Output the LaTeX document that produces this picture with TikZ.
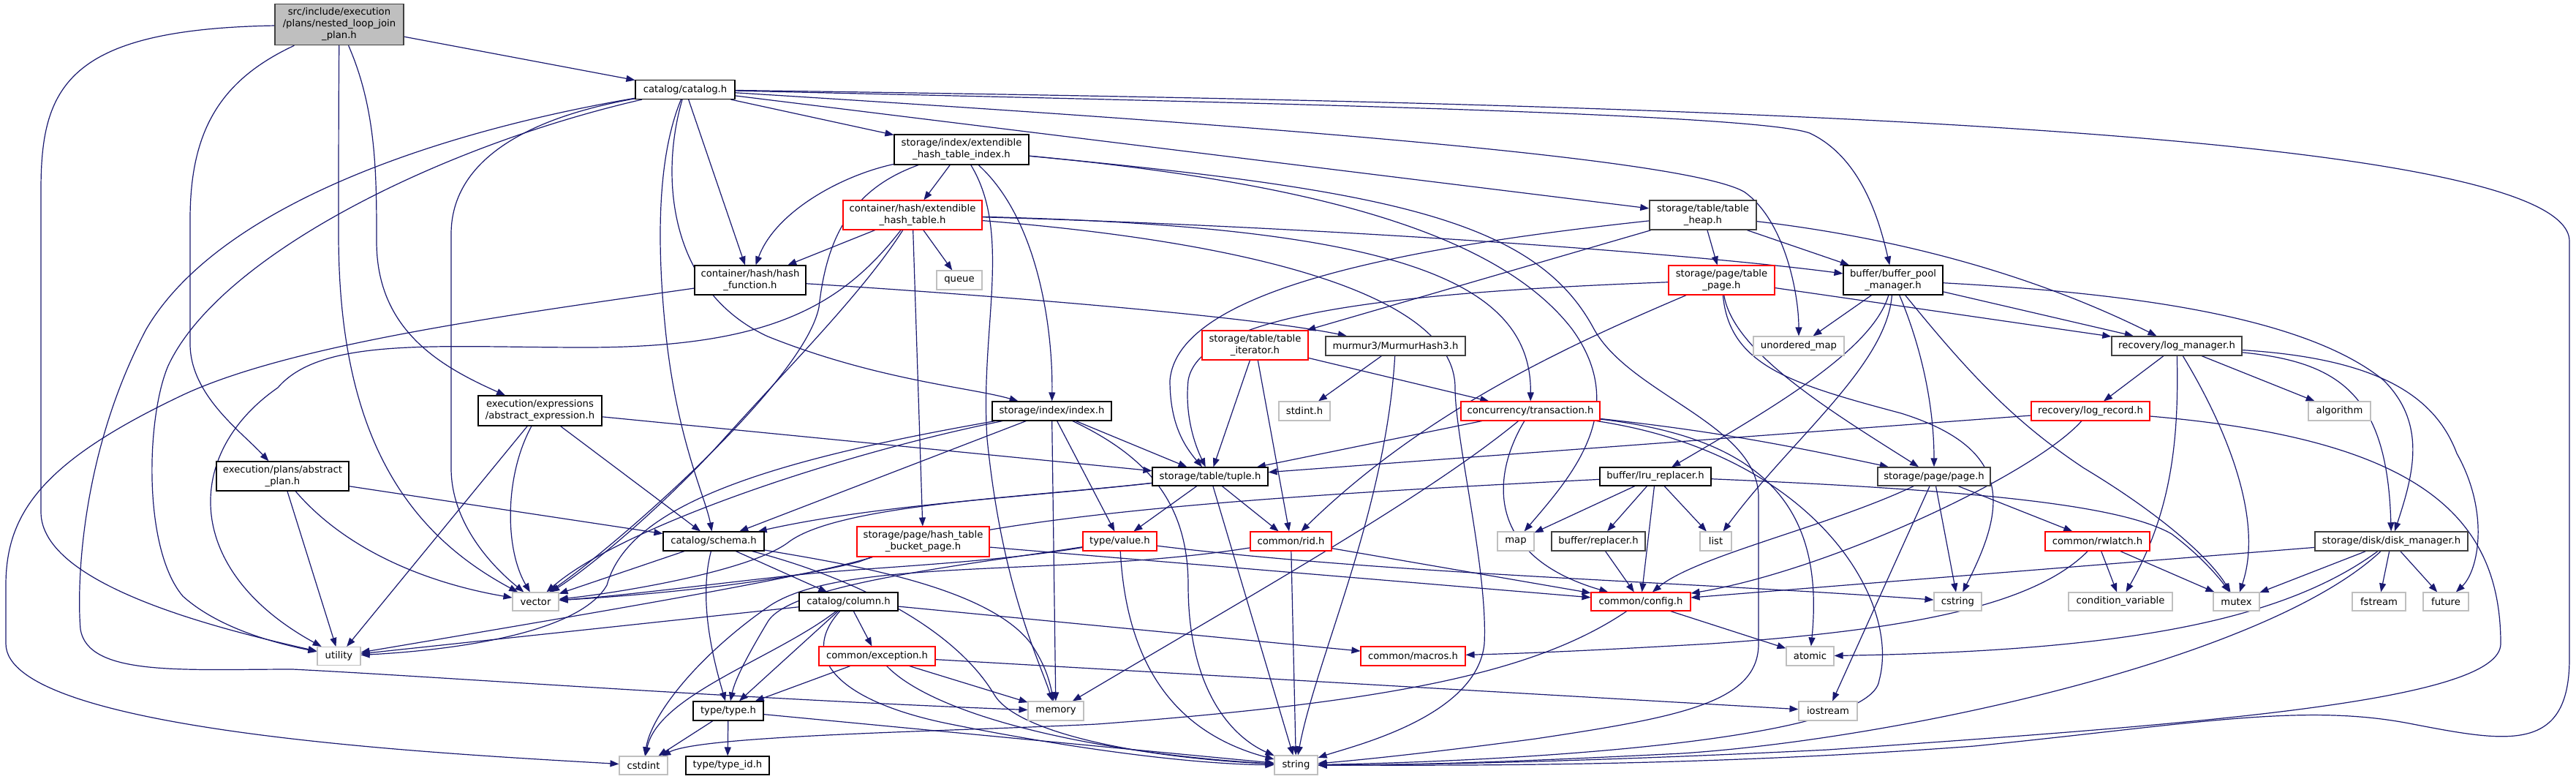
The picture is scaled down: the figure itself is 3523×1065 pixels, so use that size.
\documentclass[tikz,border=0pt]{standalone}
\usepackage{fontspec}
\setmainfont{DejaVu Sans}
\usetikzlibrary{arrows.meta}
\definecolor{edgec}{HTML}{191970}
\definecolor{gA}{HTML}{BFBFBF}
\definecolor{gB}{HTML}{404040}
\pgfdeclarelayer{bg}
\pgfsetlayers{bg,main}
\tikzset{
 nd/.style={draw=black, fill=white, line width=0.55pt, inner sep=0pt, align=center, font=\fontsize{6.6}{8}\selectfont},
 ng/.style={nd, draw=gA},
 nr/.style={nd, draw=red},
 nk/.style={nd, draw=gB, line width=0.75pt},
 ed/.style={draw=edgec, line width=0.6pt, -{Triangle[length=6pt,width=4.5pt]}},
 sz/.style 2 args={minimum width=#1pt, minimum height=#2pt},
}
\begin{document}
\begin{tikzpicture}[x=0.5pt,y=-0.5pt]
\begin{pgfonlayer}{bg}\fill[white] (0,0) rectangle (3523,1065);\end{pgfonlayer}
\useasboundingbox (0,0) rectangle (3523,1065);
% nodes
\node[nd,fill=gA,draw=gB,line width=0.75pt,sz={88}{28}] (main) at (464,33.5) {src/include/execution\\/plans/nested\_loop\_join\\\_plan.h};
\node[nd,sz={68}{13}] (catalog) at (937,122.5) {catalog/catalog.h};
\node[nd,sz={76}{20}] (hashfn) at (1026,383) {container/hash/hash\\\_function.h};
\node[nr,sz={95}{20}] (eht) at (1248,294) {container/hash/extendible\\\_hash\_table.h};
\node[nd,sz={92}{20.5}] (ehti) at (1315,204.5) {storage/index/extendible\\\_hash\_table\_index.h};
\node[ng,sz={31}{13}] (queue) at (1312,383) {queue};
\node[nr,sz={72.5}{20}] (titer) at (1716.5,472) {storage/table/table\\\_iterator.h};
\node[nk,sz={95.5}{13}] (murmur) at (1908.5,473) {murmur3/MurmurHash3.h};
\node[nk,sz={73}{20}] (theap) at (2329,294) {storage/table/table\\\_heap.h};
\node[nr,sz={72.5}{20}] (tpage) at (2354.5,383) {storage/page/table\\\_page.h};
\node[nd,sz={68}{20}] (bpm) at (2589,383) {buffer/buffer\_pool\\\_manager.h};
\node[ng,sz={62}{13}] (umap) at (2460,473) {unordered\_map};
\node[nk,sz={89}{13}] (logmgr) at (2977,473) {recovery/log\_manager.h};
\node[nd,sz={84.5}{20.5}] (absexpr) at (738.5,561.5) {execution/expressions\\/abstract\_expression.h};
\node[nd,sz={90.5}{20}] (absplan) at (386.5,651) {execution/plans/abstract\\\_plan.h};
\node[nd,sz={69}{13}] (schema) at (976,740) {catalog/schema.h};
\node[ng,sz={31.5}{12.5}] (vector) at (732.5,822.5) {vector};
\node[ng,sz={29.5}{12.5}] (utility) at (463.5,897) {utility};
\node[nd,sz={67.5}{12.5}] (column) at (1160.5,822.5) {catalog/column.h};
\node[nr,sz={79.5}{13}] (exception) at (1199.5,897) {common/exception.h};
\node[nd,sz={48}{13}] (type) at (996,972) {type/type.h};
\node[ng,sz={33}{12.5}] (cstdint) at (880,1046.5) {cstdint};
\node[nd,sz={57}{12.5}] (typeid) at (995,1046.5) {type/type\_id.h};
\node[nd,sz={81.5}{13}] (index) at (1438.5,562) {storage/index/index.h};
\node[ng,sz={35}{13}] (stdint) at (1784,562) {stdint.h};
\node[nr,sz={95}{13}] (transaction) at (2093,562) {concurrency/transaction.h};
\node[nd,sz={79}{12.5}] (tuple) at (1655,651.5) {storage/table/tuple.h};
\node[nd,sz={76}{12.5}] (lru) at (2264,651.5) {buffer/lru\_replacer.h};
\node[nr,sz={90.5}{20.5}] (bucket) at (1262.5,740.5) {storage/page/hash\_table\\\_bucket\_page.h};
\node[nr,sz={50.5}{13}] (value) at (1531.5,740) {type/value.h};
\node[nr,sz={55.5}{13}] (rid) at (1765.5,740) {common/rid.h};
\node[ng,sz={25}{13}] (map) at (2073,740) {map};
\node[nk,sz={64}{13}] (replacer) at (2186,740) {buffer/replacer.h};
\node[ng,sz={21.5}{13}] (list) at (2346.5,740) {list};
\node[nr,sz={68}{12.5}] (config) at (2244,822.5) {common/config.h};
\node[nr,sz={71.5}{13}] (macros) at (1932.5,897) {common/macros.h};
\node[ng,sz={38}{13}] (memory) at (1444,972) {memory};
\node[ng,sz={29.5}{13}] (string) at (1772.5,1046) {string};
\node[nr,sz={81}{13}] (logrec) at (2859,562) {recovery/log\_record.h};
\node[ng,sz={42.5}{13}] (algorithm) at (3199.5,562) {algorithm};
\node[nk,sz={77}{12.5}] (page) at (2645,651.5) {storage/page/page.h};
\node[nr,sz={71.5}{13}] (rwlatch) at (2868.5,740) {common/rwlatch.h};
\node[nk,sz={104.5}{13}] (disk) at (3270.5,740) {storage/disk/disk\_manager.h};
\node[ng,sz={32.5}{12.5}] (cstring) at (2677.5,822.5) {cstring};
\node[ng,sz={71}{12.5}] (condvar) at (2900,822.5) {condition\_variable};
\node[ng,sz={31.5}{12.5}] (mutex) at (3058.5,822.5) {mutex};
\node[ng,sz={36.5}{12.5}] (fstream) at (3253.5,822.5) {fstream};
\node[ng,sz={31}{12.5}] (future) at (3345,822.5) {future};
\node[ng,sz={32.5}{13}] (atomic) at (2475.5,897) {atomic};
\node[ng,sz={40}{13}] (iostream) at (2500,972) {iostream};
% edges
\begin{pgfonlayer}{bg}
% main
\draw[ed] (main) -- (catalog);
\draw[ed] (main) .. controls (90,40) and (56,120) .. (56,260) -- (56,700) .. controls (56,800) and (300,860) .. (utility);
\draw[ed] (main) .. controls (300,110) and (260,180) .. (260,300) -- (260,470) .. controls (260,540) and (330,590) .. (absplan);
\draw[ed] (main) .. controls (463,150) and (463,250) .. (463,320) .. controls (463,600) and (560,730) .. (vector);
\draw[ed] (main) .. controls (515,150) and (515,240) .. (515,330) .. controls (515,450) and (600,500) .. (absexpr);
% catalog
\draw[ed] (catalog) -- (hashfn);
\draw[ed] (catalog) -- (ehti);
\draw[ed] (catalog) -- (theap);
\draw[ed] (catalog) .. controls (1700,170) and (2300,215) .. (2385,262) .. controls (2440,300) and (2460,400) .. (umap);
\draw[ed] (catalog) .. controls (1700,140) and (2400,155) .. (2475,182) .. controls (2545,215) and (2570,300) .. (bpm);
\draw[ed] (catalog) .. controls (2200,140) and (3514,170) .. (3514,330) -- (3514,900) .. controls (3514,1030) and (3430,1015) .. (3300,990) .. controls (3150,960) and (3000,990) .. (2700,1020) .. controls (2300,1050) and (1950,1046) .. (string);
\draw[ed] (catalog) .. controls (600,180) and (300,280) .. (200,450) .. controls (110,620) and (105,800) .. (110,860) .. controls (120,925) and (250,915) .. (400,915) .. controls (600,925) and (1000,955) .. (memory);
\draw[ed] (catalog) .. controls (600,200) and (300,350) .. (230,500) .. controls (200,570) and (195,750) .. (250,815) .. controls (300,860) and (380,880) .. (utility);
\draw[ed] (catalog) .. controls (700,165) and (617,230) .. (617,320) -- (617,640) .. controls (617,720) and (680,780) .. (vector);
\draw[ed] (catalog) .. controls (905,200) and (895,300) .. (910,450) .. controls (925,600) and (965,680) .. (schema);
\draw[ed] (catalog) .. controls (900,250) and (920,400) .. (1050,460) .. controls (1200,520) and (1330,530) .. (index);
% abstract expression / plan
\draw[ed] (absexpr) -- (utility);
\draw[ed] (absexpr) .. controls (690,650) and (690,750) .. (vector);
\draw[ed] (absexpr) -- (schema);
\draw[ed] (absexpr) -- (tuple);
\draw[ed] (absplan) -- (utility);
\draw[ed] (absplan) .. controls (480,760) and (600,800) .. (vector);
\draw[ed] (absplan) -- (schema);
% extendible hash table index
\draw[ed] (ehti) -- (eht);
\draw[ed] (ehti) .. controls (1150,240) and (1060,290) .. (hashfn);
\draw[ed] (ehti) .. controls (1160,260) and (1130,330) .. (1120,420) .. controls (1100,520) and (850,740) .. (vector);
\draw[ed] (ehti) .. controls (1385,320) and (1340,450) .. (1350,600) .. controls (1370,800) and (1420,900) .. (memory);
\draw[ed] (ehti) .. controls (1420,300) and (1440,450) .. (index);
\draw[ed] (ehti) .. controls (1800,250) and (2050,320) .. (2150,450) .. controls (2230,560) and (2150,650) .. (map);
\draw[ed] (ehti) .. controls (1900,260) and (2100,300) .. (2180,450) .. controls (2230,540) and (2405,580) .. (2405,680) -- (2405,880) .. controls (2405,960) and (2300,980) .. (2100,1010) .. controls (1950,1030) and (1850,1040) .. (string);
% extendible hash table
\draw[ed] (eht) -- (queue);
\draw[ed] (eht) -- (hashfn);
\draw[ed] (eht) .. controls (1150,420) and (1050,475) .. (800,475) .. controls (600,475) and (440,460) .. (380,530) .. controls (250,620) and (250,780) .. (utility);
\draw[ed] (eht) .. controls (1180,400) and (1080,500) .. (990,600) .. controls (900,700) and (800,780) .. (vector);
\draw[ed] (eht) -- (bucket);
\draw[ed] (eht) .. controls (1800,310) and (2300,345) .. (bpm);
\draw[ed] (eht) .. controls (1900,310) and (2095,380) .. (transaction);
\draw[ed] (eht) .. controls (1700,330) and (1990,400) .. (1990,530) .. controls (1990,600) and (2035,780) .. (2030,880) .. controls (2020,980) and (1850,1020) .. (string);
% hash function, murmur
\draw[ed] (hashfn) .. controls (700,430) and (400,470) .. (250,540) .. controls (60,630) and (8,700) .. (8,800) -- (8,880) .. controls (8,1000) and (600,1030) .. (cstdint);
\draw[ed] (hashfn) .. controls (1300,400) and (1700,430) .. (murmur);
\draw[ed] (murmur) -- (stdint);
\draw[ed] (murmur) .. controls (1895,700) and (1800,900) .. (string);
% table heap
\draw[ed] (theap) -- (bpm);
\draw[ed] (theap) .. controls (2550,320) and (2750,360) .. (logmgr);
\draw[ed] (theap) -- (tpage);
\draw[ed] (theap) -- (titer);
\draw[ed] (theap) .. controls (1900,340) and (1610,400) .. (1600,520) .. controls (1600,580) and (1620,610) .. (tuple);
% table page
\draw[ed] (tpage) .. controls (1900,400) and (1640,430) .. (1625,520) .. controls (1620,570) and (1635,610) .. (tuple);
\draw[ed] (tpage) .. controls (2150,470) and (1950,560) .. (rid);
\draw[ed] (tpage) -- (logmgr);
\draw[ed] (tpage) .. controls (2370,480) and (2500,560) .. (page);
\draw[ed] (tpage) .. controls (2365,500) and (2450,525) .. (2600,565) .. controls (2760,615) and (2740,700) .. (cstring);
% buffer pool manager
\draw[ed] (bpm) -- (umap);
\draw[ed] (bpm) .. controls (2560,480) and (2420,560) .. (lru);
\draw[ed] (bpm) .. controls (2580,500) and (2450,600) .. (list);
\draw[ed] (bpm) .. controls (2630,480) and (2645,560) .. (page);
\draw[ed] (bpm) .. controls (2700,520) and (2760,580) .. (2850,640) .. controls (2950,700) and (3020,760) .. (mutex);
\draw[ed] (bpm) -- (logmgr);
\draw[ed] (bpm) .. controls (2900,400) and (3150,430) .. (3260,520) .. controls (3320,580) and (3300,650) .. (disk);
% log manager
\draw[ed] (logmgr) -- (logrec);
\draw[ed] (logmgr) .. controls (2980,600) and (2970,700) .. (condvar);
\draw[ed] (logmgr) .. controls (3030,560) and (3100,700) .. (mutex);
\draw[ed] (logmgr) -- (algorithm);
\draw[ed] (logmgr) .. controls (3200,495) and (3265,540) .. (disk);
\draw[ed] (logmgr) .. controls (3250,490) and (3330,540) .. (3360,620) .. controls (3405,700) and (3390,780) .. (future);
% log record
\draw[ed] (logrec) -- (tuple);
\draw[ed] (logrec) .. controls (2780,650) and (2500,780) .. (config);
\draw[ed] (logrec) .. controls (3300,600) and (3420,700) .. (3420,880) .. controls (3420,960) and (3000,990) .. (2500,1025) .. controls (2200,1040) and (1950,1046) .. (string);
% disk manager
\draw[ed] (disk) -- (config);
\draw[ed] (disk) -- (mutex);
\draw[ed] (disk) .. controls (3120,850) and (2900,890) .. (atomic);
\draw[ed] (disk) .. controls (3100,900) and (2600,1010) .. (2300,1030) .. controls (2100,1040) and (1950,1046) .. (string);
\draw[ed] (disk) -- (fstream);
\draw[ed] (disk) -- (future);
% page
\draw[ed] (page) .. controls (2500,720) and (2320,760) .. (config);
\draw[ed] (page) -- (cstring);
\draw[ed] (page) -- (iostream);
\draw[ed] (page) -- (rwlatch);
% rwlatch
\draw[ed] (rwlatch) -- (condvar);
\draw[ed] (rwlatch) -- (mutex);
\draw[ed] (rwlatch) .. controls (2780,830) and (2600,862) .. (2340,880) .. controls (2200,888) and (2100,893) .. (macros);
% config, replacer, lru
\draw[ed] (config) -- (atomic);
\draw[ed] (config) .. controls (2100,920) and (1900,960) .. (1500,990) .. controls (1300,1000) and (960,1005) .. (cstdint);
\draw[ed] (replacer) -- (config);
\draw[ed] (lru) -- (map);
\draw[ed] (lru) -- (replacer);
\draw[ed] (lru) -- (config);
\draw[ed] (lru) -- (list);
\draw[ed] (lru) .. controls (2700,670) and (2900,690) .. (2970,730) .. controls (3010,760) and (3035,790) .. (mutex);
\draw[ed] (lru) .. controls (1800,675) and (1350,700) .. (1175,768) .. controls (1050,800) and (860,815) .. (vector);
% transaction
\draw[ed] (transaction) -- (tuple);
\draw[ed] (transaction) .. controls (1950,680) and (1700,820) .. (memory);
\draw[ed] (transaction) .. controls (2040,650) and (2030,760) .. (config);
\draw[ed] (transaction) .. controls (2350,590) and (2450,610) .. (page);
\draw[ed] (transaction) .. controls (2420,600) and (2495,700) .. (atomic);
\draw[ed] (transaction) .. controls (2480,620) and (2600,820) .. (2570,930) .. controls (2560,1010) and (2100,1040) .. (string);
% table iterator
\draw[ed] (titer) -- (tuple);
\draw[ed] (titer) -- (rid);
\draw[ed] (titer) -- (transaction);
% tuple
\draw[ed] (tuple) -- (value);
\draw[ed] (tuple) -- (rid);
\draw[ed] (tuple) -- (string);
\draw[ed] (tuple) .. controls (1400,680) and (1200,690) .. (schema);
\draw[ed] (tuple) .. controls (1400,680) and (1150,690) .. (1080,740) .. controls (1030,780) and (850,810) .. (vector);
% value
\draw[ed] (value) .. controls (1300,775) and (1080,800) .. (1050,850) .. controls (1020,900) and (1005,930) .. (type);
\draw[ed] (value) .. controls (1540,900) and (1600,1000) .. (string);
\draw[ed] (value) .. controls (1350,770) and (1200,775) .. (1100,785) .. controls (1000,795) and (850,815) .. (vector);
\draw[ed] (value) .. controls (1900,785) and (2300,795) .. (cstring);
% rid
\draw[ed] (rid) -- (config);
\draw[ed] (rid) -- (string);
\draw[ed] (rid) .. controls (1450,790) and (1150,760) .. (1050,830) .. controls (950,900) and (890,980) .. (cstdint);
% bucket page
\draw[ed] (bucket) -- (config);
\draw[ed] (bucket) .. controls (1100,790) and (800,840) .. (utility);
% index
\draw[ed] (index) .. controls (1150,620) and (850,720) .. (vector);
\draw[ed] (index) .. controls (1050,630) and (860,690) .. (830,800) .. controls (790,870) and (600,890) .. (utility);
\draw[ed] (index) -- (schema);
\draw[ed] (index) -- (memory);
\draw[ed] (index) -- (value);
\draw[ed] (index) -- (tuple);
\draw[ed] (index) .. controls (1560,620) and (1625,680) .. (1625,800) .. controls (1625,950) and (1690,1010) .. (string);
% schema
\draw[ed] (schema) -- (vector);
\draw[ed] (schema) .. controls (955,820) and (975,900) .. (type);
\draw[ed] (schema) -- (column);
\draw[ed] (schema) .. controls (1150,770) and (1350,800) .. (1410,880) .. controls (1430,910) and (1435,930) .. (memory);
\draw[ed] (schema) .. controls (1150,785) and (1300,850) .. (1360,950) .. controls (1390,1000) and (1550,1035) .. (string);
% column
\draw[ed] (column) -- (utility);
\draw[ed] (column) -- (exception);
\draw[ed] (column) -- (macros);
\draw[ed] (column) -- (type);
\draw[ed] (column) .. controls (1060,900) and (900,950) .. (cstdint);
\draw[ed] (column) .. controls (1090,900) and (1150,960) .. (1300,990) .. controls (1500,1030) and (1650,1045) .. (string);
% exception
\draw[ed] (exception) -- (type);
\draw[ed] (exception) -- (memory);
\draw[ed] (exception) .. controls (1280,980) and (1500,1030) .. (string);
\draw[ed] (exception) -- (iostream);
% type
\draw[ed] (type) -- (cstdint);
\draw[ed] (type) -- (typeid);
\draw[ed] (type) -- (string);
\end{pgfonlayer}
\end{tikzpicture}
\end{document}
